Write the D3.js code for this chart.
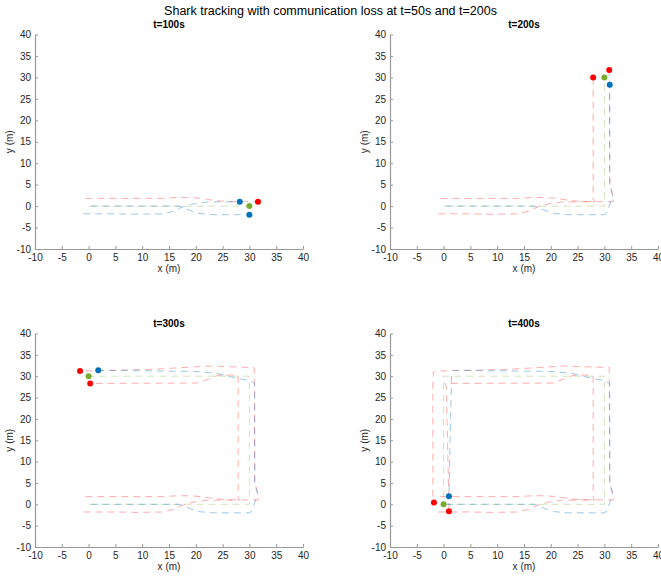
<!DOCTYPE html>
<html>
<head>
<meta charset="utf-8">
<script src="https://cdn.jsdelivr.net/npm/d3@7"></script>
<style>
  body { margin: 0; background: #fff; }
  svg { font-family: "Liberation Sans", Arial, Helvetica, sans-serif; }
  .axis path, .axis line { stroke: #999; }
  .axis text { fill: #262626; font-size: 10px; }
</style>
</head>
<body>
<div id="chart"></div>
<script>
const mainTitle = "Shark tracking with communication loss at t=50s and t=200s";
const panelTimes = [100, 200, 300, 400];
const panelTitles = ["t=100s", "t=200s", "t=300s", "t=400s"];
const tickValues = [-10, -5, 0, 5, 10, 15, 20, 25, 30, 35, 40];

// [t, x, y]
const sharkPath = [[0, 0, 0], [100, 30, 0], [200, 30, 30], [300, 0, 30], [400, 0, 0]];

const trackerA = [
  [0, -0.6, 1.8], [45, 14, 1.8], [55, 16.5, 2.0], [62, 19, 2.0], [68, 21, 1.8],
  [74, 23.5, 1.3], [80, 25.5, 1.1], [100, 31.6, 1.0],
  [104, 31.8, 1.6], [108, 31.5, 3.0], [114, 31.0, 5.0], [200, 30.9, 31.7],
  [204, 30.9, 32.0], [232, 22.5, 32.4], [262, 12, 31.6], [300, -1.6, 31.2],
  [304, -1.9, 31.0], [308, -2.0, 29.5], [392, -2.0, 2.0], [400, -1.8, 0.4]
];
const trackerB = [
  [0, -1.0, -1.8], [20, 5, -1.8], [30, 9, -1.9], [45, 14, -1.8], [52, 15.8, -1.2],
  [58, 17.5, -0.2], [64, 19.5, 0.5], [72, 22, 0.95], [90, 27.5, 1.0], [100, 28.2, 1.0],
  [104, 27.9, 1.5], [200, 27.9, 30.0],
  [204, 27.5, 30.3], [214, 24.2, 30.2], [226, 20.4, 28.4], [300, 0.3, 28.3],
  [304, 0.5, 27.5], [390, 1.0, 0], [400, 1.0, -1.6]
];
const trackerC = [
  [0, 0.5, 0], [55, 17, 0], [60, 18.5, -0.8], [66, 20.5, -1.7], [74, 23, -2.0], [100, 30, -2.0],
  [103, 30.3, -1.8], [107, 31.0, 0.3], [111, 31.5, 2.5], [116, 31.0, 4.8], [200, 31.0, 28.3],
  [204, 30.2, 28.9], [214, 27, 29.7], [222, 24.1, 30.6], [234, 20.4, 31.1], [300, 1.8, 31.4],
  [304, 1.5, 31.0], [340, 1.3, 20], [400, 1.0, 1.9]
];
const trackers = [trackerA, trackerB, trackerC];
// link status of each tracker in each panel
const trackerStatus = [
  ["lost", "ok", "ok"],
  ["lost", "lost", "ok"],
  ["lost", "lost", "ok"],
  ["lost", "lost", "ok"]
];

const colors = {lost: "#ff0000", ok: "#0072bd", shark: "#77ac30"};

const width = 661, height = 576;
const layout = [
  {left: 35, right: 303, top: 34.5, bottom: 249},
  {left: 390, right: 658, top: 34.5, bottom: 249},
  {left: 35, right: 303, top: 333.5, bottom: 547},
  {left: 390, right: 658, top: 333.5, bottom: 547}
];

const svg = d3.select("#chart").append("svg")
  .attr("width", width)
  .attr("height", height);

svg.append("text")
  .attr("x", width / 2)
  .attr("y", 15)
  .attr("text-anchor", "middle")
  .style("font-size", "12.5px")
  .style("fill", "#000")
  .text(mainTitle);

panelTimes.forEach((T, i) => {
  const box = layout[i];
  const x = d3.scaleLinear().domain([-10, 40]).range([box.left, box.right]);
  const y = d3.scaleLinear().domain([-10, 40]).range([box.bottom, box.top]);
  const g = svg.append("g");

  g.append("g")
    .attr("class", "axis")
    .attr("transform", `translate(0,${box.bottom})`)
    .call(d3.axisBottom(x).tickValues(tickValues).tickFormat(d => String(d))
      .tickSizeInner(-3).tickSizeOuter(0).tickPadding(5));

  g.append("g")
    .attr("class", "axis")
    .attr("transform", `translate(${box.left},0)`)
    .call(d3.axisLeft(y).tickValues(tickValues).tickFormat(d => String(d))
      .tickSizeInner(-3).tickSizeOuter(0).tickPadding(4));

  g.selectAll(".axis path").attr("stroke-width", 1.2);

  g.append("text")
    .attr("x", (box.left + box.right) / 2)
    .attr("y", box.top - 7)
    .attr("text-anchor", "middle")
    .style("font-size", "10px")
    .style("font-weight", "bold")
    .style("fill", "#000")
    .text(panelTitles[i]);

  g.append("text")
    .attr("x", (box.left + box.right) / 2)
    .attr("y", box.bottom + 23)
    .attr("text-anchor", "middle")
    .style("font-size", "10px")
    .style("fill", "#262626")
    .text("x (m)");

  g.append("text")
    .attr("transform", `translate(${box.left - 22},${(box.top + box.bottom) / 2}) rotate(-90)`)
    .attr("text-anchor", "middle")
    .style("font-size", "10px")
    .style("fill", "#262626")
    .text("y (m)");

  const line = d3.line().x(d => x(d[1])).y(d => y(d[2]));
  const upTo = path => path.filter(d => d[0] <= T);

  g.append("path")
    .attr("d", line(upTo(sharkPath)))
    .attr("fill", "none")
    .attr("stroke", colors.shark)
    .attr("stroke-opacity", 0.32)
    .attr("stroke-width", 1)
    .attr("stroke-dasharray", "7,5");

  trackers.forEach((path, k) => {
    const status = trackerStatus[i][k];
    g.append("path")
      .attr("d", line(upTo(path)))
      .attr("fill", "none")
      .attr("stroke", colors[status])
      .attr("stroke-opacity", status === "lost" ? 0.32 : 0.38)
      .attr("stroke-width", 1)
      .attr("stroke-dasharray", "7,5");
  });

  const sharkNow = upTo(sharkPath).slice(-1)[0];
  g.append("circle")
    .attr("cx", x(sharkNow[1]))
    .attr("cy", y(sharkNow[2]))
    .attr("r", 3)
    .attr("fill", colors.shark);

  trackers.forEach((path, k) => {
    const now = upTo(path).slice(-1)[0];
    g.append("circle")
      .attr("cx", x(now[1]))
      .attr("cy", y(now[2]))
      .attr("r", 3)
      .attr("fill", colors[trackerStatus[i][k]]);
  });
});
</script>
</body>
</html>
